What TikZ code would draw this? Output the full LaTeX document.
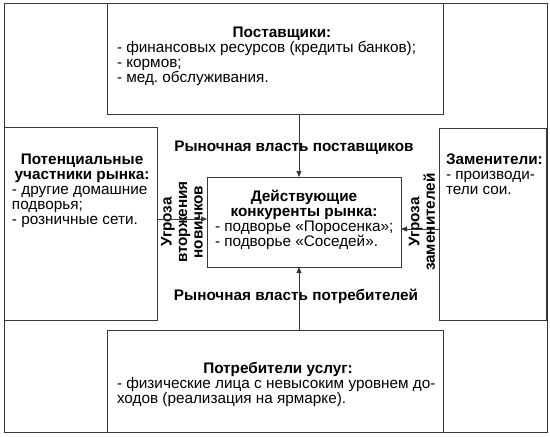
\documentclass[tikz,border=0pt]{standalone}
\usepackage{fontspec}
\setmainfont{Liberation Sans}
\usetikzlibrary{arrows.meta}
\definecolor{linec}{HTML}{383838}
\frenchspacing
\begin{document}
\frenchspacing
\begin{tikzpicture}[x=1pt,y=-1pt,
  every node/.style={inner sep=0pt, outer sep=0pt},
  box/.style={draw=linec, line width=0.9pt, anchor=north west, rectangle},
  txt/.style={font=\fontsize{15.3}{15}\selectfont, text=black},
  head/.style={font=\fontsize{15.3}{15}\selectfont\bfseries, text=black, align=center, anchor=base},
  list/.style={txt, align=left, anchor=base west},
  vlab/.style={font=\fontsize{15.3}{15.5}\selectfont\bfseries, text=black, align=center, rotate=90},
  arr/.style={draw=linec, line width=0.9pt, -{Triangle[length=6pt,width=5pt]}}]
\useasboundingbox (0,0) rectangle (550,437);
% boxes
\node[box, minimum width=543pt, minimum height=429pt] (frame) at (4,3) {};
\node[box, minimum width=336pt, minimum height=111pt] (top) at (107,3) {};
\node[box, minimum width=336pt, minimum height=102pt] (bottom) at (107,330) {};
\node[box, minimum width=153pt, minimum height=193pt] (left) at (4,127) {};
\node[box, minimum width=107pt, minimum height=192pt] (right) at (439,128) {};
\node[box, minimum width=194pt, minimum height=90pt] (center) at (207,177) {};
% texts (multi-line nodes: base = baseline of last line)
\node[head] (toph) at (282,37) {Поставщики:};
\node[list] (topl) at (117,82) {- финансовых ресурсов (кредиты банков);\\- кормов;\\- мед. обслуживания.};
\node[head] (lefth) at (82,179) {Потенциальные\\участники рынка:};
\node[list] (leftl) at (12,224) {- другие домашние\\подворья;\\- розничные сети.};
\node[head, anchor=base west] (righth) at (446,164) {Заменители:};
\node[list] (rightl) at (446,194) {- производи-\\тели сои.};
\node[head] (centh) at (304,216) {Действующие\\конкуренты рынка:};
\node[list] (centl) at (215,246) {- подворье «Поросенка»;\\- подворье «Соседей».};
\node[head] (both) at (278,373) {Потребители услуг:};
\node[list] (botl) at (117,403) {- физические лица с невысоким уровнем до-\\ходов (реализация на ярмарке).};
\node[head] (supl) at (294,151) {Рыночная власть поставщиков};
\node[head] (conl) at (296,300) {Рыночная власть потребителей};
\node[vlab] (newl) at (182,222) {Угроза\\вторжения\\новичков};
\node[vlab] (subl) at (422,222) {Угроза\\заменителей};
% arrows
\coordinate (ax) at (299,0);
\coordinate (ly) at (0,219);
\coordinate (ry) at (0,229);
\draw[arr] (top.south -| ax) -- (center.north -| ax);
\draw[arr] (bottom.north -| ax) -- (center.south -| ax);
\draw[arr] (left.east |- ly) -- (center.west |- ly);
\draw[arr] (right.west |- ry) -- (center.east |- ry);
\end{tikzpicture}
\end{document}
